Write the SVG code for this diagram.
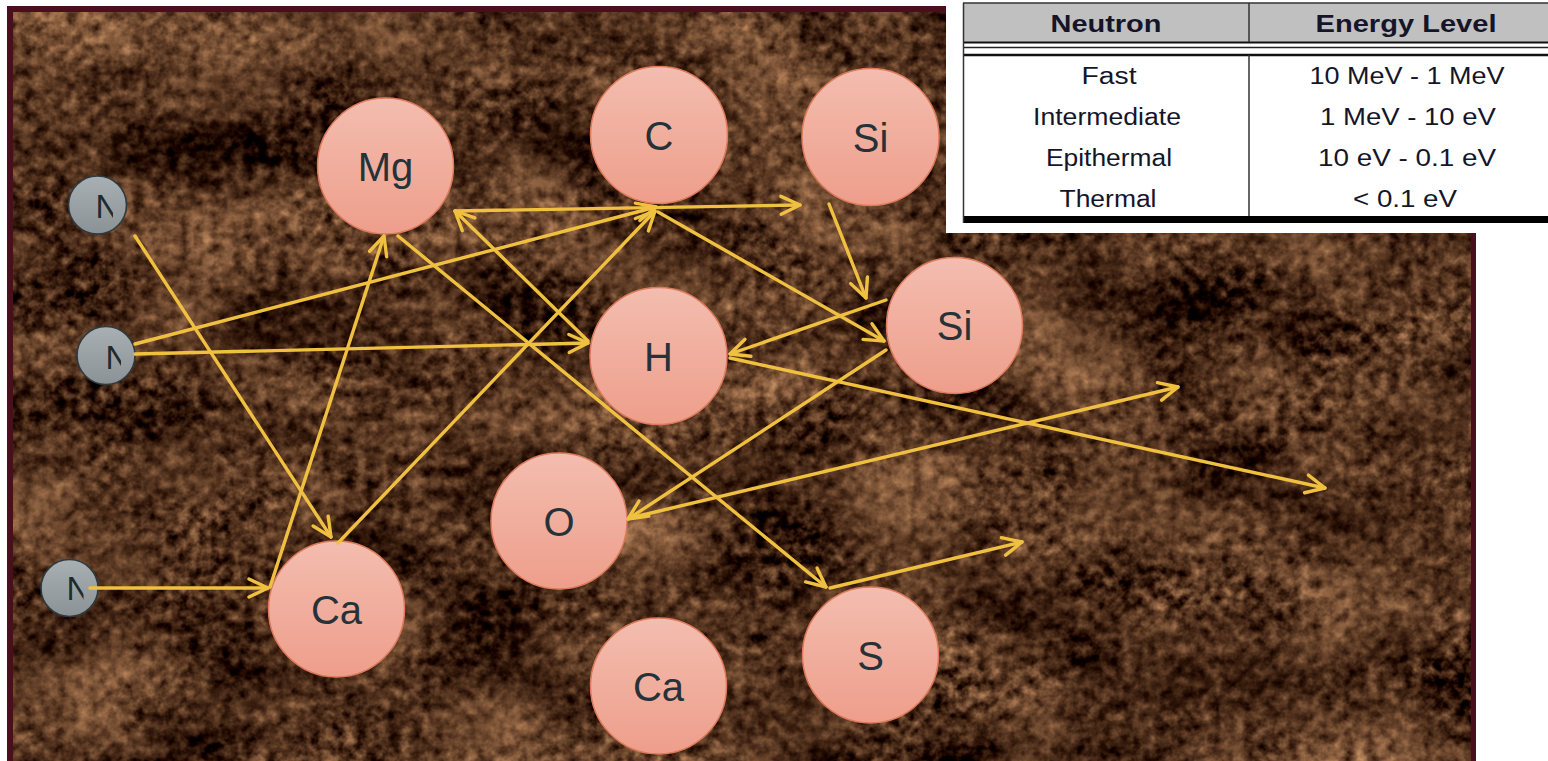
<svg xmlns="http://www.w3.org/2000/svg" width="1548" height="761" viewBox="0 0 1548 761">
<defs>
<style>
.atom circle{fill:url(#gPink);stroke:#de7a5c;stroke-width:1.5}
.atom text{font-family:"Liberation Sans",Arial,sans-serif;font-size:40px;fill:#263238;text-anchor:middle}
.neu circle{fill:url(#gGray);stroke:#2e3a40;stroke-width:1.6}
.neu text{font-family:"Liberation Sans",Arial,sans-serif;font-size:33px;fill:#1f2a2f}
.edge{stroke:#F0C040;stroke-width:3.4;fill:none;stroke-linecap:round;marker-end:url(#ah)}
.tt{font-family:"Liberation Sans",Arial,sans-serif;font-size:23px;fill:#15152a;text-anchor:middle}
.th{font-weight:bold}
</style>
<linearGradient id="gPink" x1="0" y1="0" x2="0" y2="1">
<stop offset="0" stop-color="#f3bdaf"/>
<stop offset="1" stop-color="#ee9e8b"/>
</linearGradient>
<linearGradient id="gGray" x1="0" y1="0" x2="0" y2="1">
<stop offset="0" stop-color="#a9b0b4"/>
<stop offset="1" stop-color="#8a9296"/>
</linearGradient>
<marker id="ah" markerUnits="userSpaceOnUse" viewBox="-24 -14 28 28" refX="0" refY="0" markerWidth="28" markerHeight="28" orient="auto" overflow="visible">
<path d="M-19,-9 L0,0 L-19,9" fill="none" stroke="#F0C040" stroke-width="3.4" stroke-linecap="round" stroke-linejoin="round"/>
</marker>
<filter id="marble" filterUnits="userSpaceOnUse" x="13" y="12" width="1458" height="749" color-interpolation-filters="sRGB">
<feTurbulence type="fractalNoise" baseFrequency="0.007 0.011" numOctaves="3" seed="5" result="big"/>
<feTurbulence type="fractalNoise" baseFrequency="0.09" numOctaves="3" seed="11" result="fine"/>
<feComposite in="big" in2="fine" operator="arithmetic" k1="0" k2="0.55" k3="0.55" k4="-0.05" result="mix"/>
<feColorMatrix in="mix" type="matrix" values="1.15 0 0 0 -0.2  0.92 0 0 0 -0.22  0.68 0 0 0 -0.19  0 0 0 0 1"/>
</filter>
<clipPath id="cN1"><rect x="60" y="170" width="53" height="70"/></clipPath>
<clipPath id="cN2"><rect x="70" y="320" width="51" height="70"/></clipPath>
<clipPath id="cN3"><rect x="35" y="555" width="48.5" height="70"/></clipPath>
</defs>

<g id="background">
<rect x="7" y="6" width="1469" height="760" fill="#4a0f1c"/>
<rect x="13" y="12" width="1458" height="749" fill="#5a3b25"/>
<rect x="13" y="12" width="1458" height="749" fill="#5a3b25" filter="url(#marble)"/>
</g>

<g id="table">
<rect x="946" y="0" width="602" height="233" fill="#ffffff"/>
<rect x="963" y="3" width="585" height="39" fill="#c0c0c0"/>
<line x1="963" y1="3" x2="1548" y2="3" stroke="#333" stroke-width="1.5"/>
<line x1="963" y1="42.5" x2="1548" y2="42.5" stroke="#111" stroke-width="2"/>
<line x1="963" y1="47.5" x2="1548" y2="47.5" stroke="#222" stroke-width="1.5"/>
<line x1="963" y1="55" x2="1548" y2="55" stroke="#111" stroke-width="2.5"/>
<rect x="963" y="216" width="585" height="7" fill="#000"/>
<line x1="963.5" y1="3" x2="963.5" y2="223" stroke="#333" stroke-width="1.5"/>
<line x1="1249" y1="3" x2="1249" y2="42" stroke="#333" stroke-width="1.5"/>
<line x1="1249" y1="55" x2="1249" y2="216" stroke="#333" stroke-width="1.5"/>
<text class="tt th" x="1106" y="32" textLength="111" lengthAdjust="spacingAndGlyphs">Neutron</text>
<text class="tt th" x="1406" y="32" textLength="181" lengthAdjust="spacingAndGlyphs">Energy Level</text>
<text class="tt" x="1109" y="84" textLength="55" lengthAdjust="spacingAndGlyphs">Fast</text>
<text class="tt" x="1107" y="125" textLength="148" lengthAdjust="spacingAndGlyphs">Intermediate</text>
<text class="tt" x="1109" y="166" textLength="126" lengthAdjust="spacingAndGlyphs">Epithermal</text>
<text class="tt" x="1108" y="207" textLength="97" lengthAdjust="spacingAndGlyphs">Thermal</text>
<text class="tt" x="1407" y="84" textLength="195" lengthAdjust="spacingAndGlyphs">10 MeV - 1 MeV</text>
<text class="tt" x="1408" y="125" textLength="176" lengthAdjust="spacingAndGlyphs">1 MeV - 10 eV</text>
<text class="tt" x="1407" y="166" textLength="178" lengthAdjust="spacingAndGlyphs">10 eV - 0.1 eV</text>
<text class="tt" x="1405" y="207" textLength="104" lengthAdjust="spacingAndGlyphs">&lt; 0.1 eV</text>
</g>

<g id="node-Mg" class="atom"><circle cx="385.5" cy="166" r="68"/><text x="385.5" y="181">Mg</text></g>
<g id="node-C" class="atom"><circle cx="659" cy="135" r="68.5"/><text x="659" y="150">C</text></g>
<g id="node-Si1" class="atom"><circle cx="870.5" cy="137" r="68.5"/><text x="870.5" y="152">Si</text></g>
<g id="node-Si2" class="atom"><circle cx="954.5" cy="325.5" r="68"/><text x="954.5" y="340">Si</text></g>
<g id="node-H" class="atom"><circle cx="658.5" cy="356" r="68.5"/><text x="658.5" y="371">H</text></g>
<g id="node-O" class="atom"><circle cx="559" cy="521" r="68"/><text x="559" y="536">O</text></g>
<g id="node-Ca1" class="atom"><circle cx="336.5" cy="609" r="68"/><text x="336.5" y="624">Ca</text></g>
<g id="node-Ca2" class="atom"><circle cx="658.5" cy="686" r="68"/><text x="658.5" y="701">Ca</text></g>
<g id="node-S" class="atom"><circle cx="870.5" cy="655" r="68"/><text x="870.5" y="670">S</text></g>

<g id="node-N1" class="neu"><circle cx="97.5" cy="205" r="29"/><text x="95.6" y="218" clip-path="url(#cN1)">N</text></g>
<g id="node-N2" class="neu"><circle cx="106" cy="355.5" r="29"/><text x="105.6" y="369" clip-path="url(#cN2)">N</text></g>
<g id="node-N3" class="neu"><circle cx="69.5" cy="588" r="28.5"/><text x="66.6" y="600" clip-path="url(#cN3)">N</text></g>

<g id="connectors">
<line class="edge" x1="135" y1="236" x2="331" y2="537"/>
<line class="edge" x1="135" y1="344" x2="656" y2="207"/>
<line class="edge" x1="135" y1="354" x2="588" y2="343"/>
<line class="edge" x1="90" y1="588" x2="268" y2="588"/>
<line class="edge" x1="270" y1="587" x2="384" y2="236"/>
<line class="edge" x1="338" y1="543" x2="655" y2="211"/>
<line class="edge" x1="398" y1="236" x2="826" y2="587"/>
<line class="edge" x1="588" y1="341" x2="455" y2="211"/>
<line class="edge" x1="455" y1="211" x2="800" y2="205"/>
<line class="edge" x1="658" y1="212" x2="884" y2="341"/>
<line class="edge" x1="829" y1="204" x2="866" y2="298"/>
<line class="edge" x1="886" y1="300" x2="730" y2="354"/>
<line class="edge" x1="886" y1="350" x2="628" y2="519"/>
<line class="edge" x1="730" y1="358" x2="1325" y2="488"/>
<line class="edge" x1="630" y1="518" x2="1178" y2="387"/>
<line class="edge" x1="830" y1="588" x2="1022" y2="542"/>
</g>
</svg>
